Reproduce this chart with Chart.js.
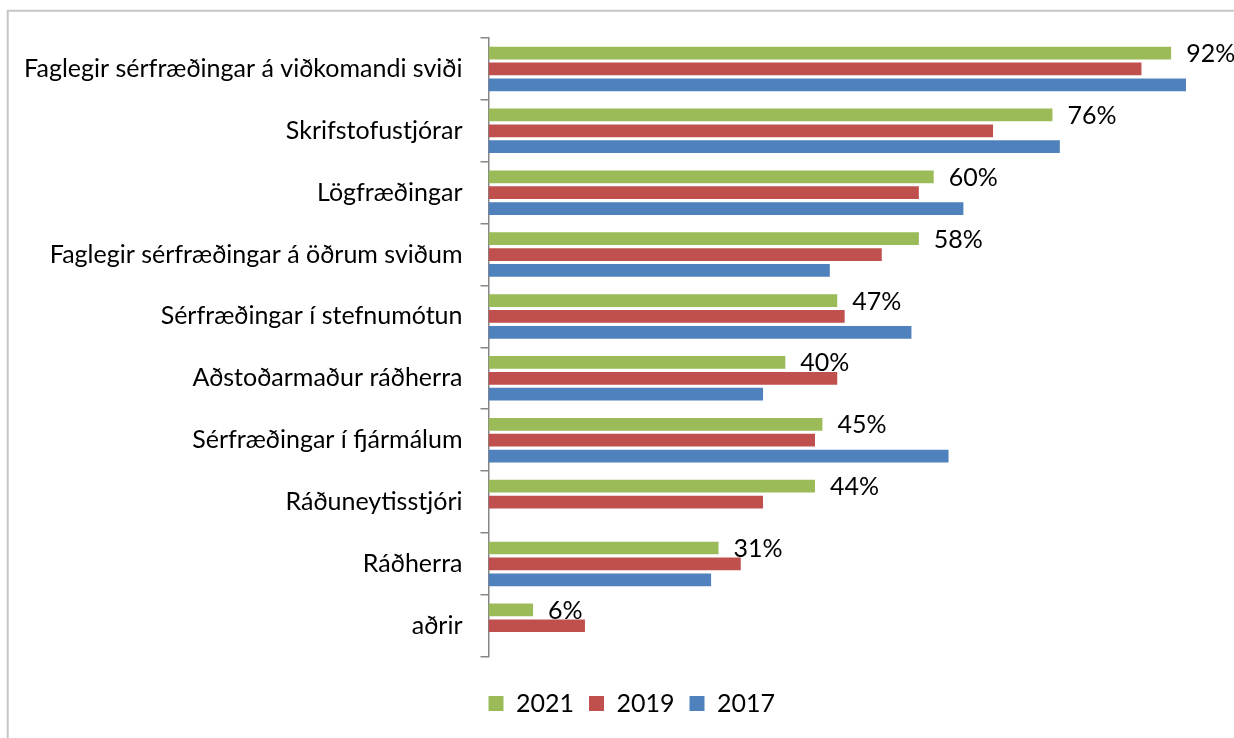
<!DOCTYPE html>
<html>
<head>
<meta charset="utf-8">
<script src="https://cdn.jsdelivr.net/npm/chart.js@4.4.0/dist/chart.umd.min.js"></script>
<style>
  html, body { margin: 0; padding: 0; background: #fff; }
  #wrap { width: 1234px; height: 738px; position: relative; }
</style>
</head>
<body>
<div id="wrap"><canvas id="c" width="1234" height="738"></canvas></div>
<script>
const categories = [
  "Faglegir sérfræðingar á viðkomandi sviði",
  "Skrifstofustjórar",
  "Lögfræðingar",
  "Faglegir sérfræðingar á öðrum sviðum",
  "Sérfræðingar í stefnumótun",
  "Aðstoðarmaður ráðherra",
  "Sérfræðingar í fjármálum",
  "Ráðuneytisstjóri",
  "Ráðherra",
  "aðrir"
];
const seriesNames = ["2021", "2019", "2017"];
const values2021 = [92, 76, 60, 58, 47, 40, 45, 44, 31, 6];
const values2019 = [88, 68, 58, 53, 48, 47, 44, 37, 34, 13];
const values2017 = [94, 77, 64, 46, 57, 37, 62, null, 30, null];
const seriesColors = ["#9BBB59", "#C0504D", "#4F81BD"];

const FONT = "Lato";
const FS = 25;

const framePlugin = {
  id: "frame",
  beforeDraw(chart) {
    const ctx = chart.ctx;
    ctx.save();
    ctx.fillStyle = "#fff";
    ctx.fillRect(0, 0, chart.width, chart.height);
    ctx.strokeStyle = "#c6c6c6";
    ctx.lineWidth = 2;
    ctx.beginPath();
    ctx.moveTo(7.7, chart.height);
    ctx.lineTo(7.7, 10.7);
    ctx.lineTo(chart.width, 10.7);
    ctx.stroke();
    ctx.restore();
  }
};

// shift the legend block so it is centred where the reference centres it
const legendShiftPlugin = {
  id: "legendShift",
  afterLayout(chart) {
    if (chart.legend) {
      chart.legend.left += 16.5;
      chart.legend.right += 16.5;
    }
  }
};

const valueLabelPlugin = {
  id: "valueLabels",
  afterDatasetsDraw(chart) {
    const ctx = chart.ctx;
    const meta = chart.getDatasetMeta(0);
    const data = chart.data.datasets[0].data;
    ctx.save();
    ctx.font = FS + "px " + FONT;
    ctx.fillStyle = "#000";
    ctx.textAlign = "left";
    ctx.textBaseline = "middle";
    meta.data.forEach((bar, i) => {
      const v = data[i];
      if (v == null) return;
      ctx.fillText(v + "%", bar.x + 15, bar.y + 1);
    });
    ctx.restore();
  }
};

function build() {
  new Chart(document.getElementById("c"), {
    type: "bar",
    data: {
      labels: categories,
      datasets: [
        { label: seriesNames[0], data: values2021, backgroundColor: seriesColors[0] },
        { label: seriesNames[1], data: values2019, backgroundColor: seriesColors[1] },
        { label: seriesNames[2], data: values2017, backgroundColor: seriesColors[2] }
      ]
    },
    options: {
      indexAxis: "y",
      responsive: false,
      animation: false,
      devicePixelRatio: 1,
      datasets: { bar: { categoryPercentage: 0.77, barPercentage: 0.8 } },
      layout: { padding: { top: 38, right: 3.5, bottom: 12, left: 0 } },
      scales: {
        x: {
          min: 0, max: 100,
          display: true,
          grid: { display: false },
          border: { display: false },
          ticks: { display: false },
          afterFit(s) { s.height = 19.3; }
        },
        y: {
          grid: { display: true, drawOnChartArea: false, drawTicks: true, tickLength: 8, color: "#868686", lineWidth: 1.5, offset: true },
          border: { display: true, color: "#868686", width: 1.5 },
          ticks: { color: "#000", font: { family: FONT, size: FS }, padding: 18, autoSkip: false },
          afterFit(s) { s.width = 488.5; }
        }
      },
      plugins: {
        legend: {
          position: "bottom",
          labels: { boxWidth: 15, boxHeight: 15, padding: 15, color: "#000", font: { family: FONT, size: FS } }
        },
        tooltip: { enabled: false }
      }
    },
    plugins: [framePlugin, legendShiftPlugin, valueLabelPlugin]
  });
}

if (document.fonts && document.fonts.load) {
  document.fonts.load(FS + "px " + FONT).then(build, build);
} else {
  build();
}
</script>
</body>
</html>
